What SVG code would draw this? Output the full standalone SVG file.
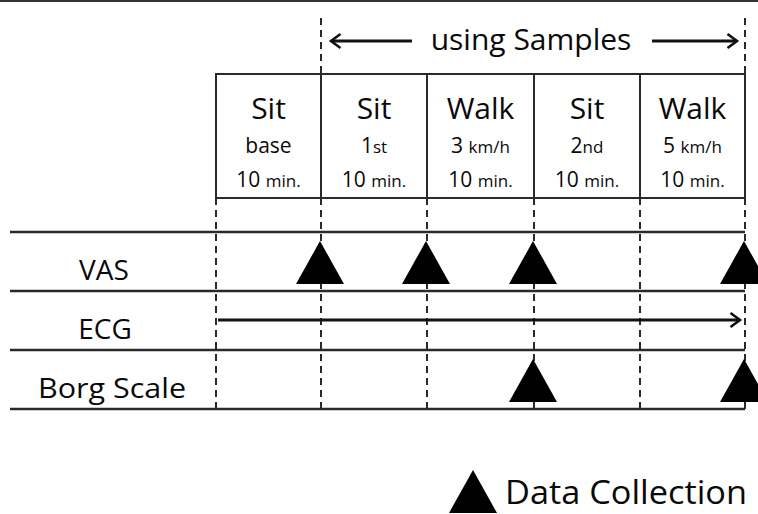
<svg xmlns="http://www.w3.org/2000/svg" width="758" height="514" viewBox="0 0 758 514">
<style>
  text { font-family: "Open Sans", "Liberation Sans", sans-serif; fill: #0a0a0a; text-anchor: middle; }
  .big { font-size: 30px; }
  .mid { font-size: 21px; }
  .sm { font-size: 17px; }
  .lbl { font-size: 28px; }
  .hline { stroke: #2a2a2a; stroke-width: 2.5; fill: none; }
  .solid { stroke: #2a2a2a; stroke-width: 2; fill: none; }
  .dash { stroke: #2a2a2a; stroke-width: 2; stroke-dasharray: 7 5; fill: none; }
  .arr { stroke: #111; stroke-width: 2.8; fill: none; }
  .tri { fill: #000; }
</style>
<defs>
  <marker id="head" viewBox="0 0 12 16" refX="10.5" refY="8" markerWidth="12" markerHeight="16" markerUnits="userSpaceOnUse" orient="auto-start-reverse" overflow="visible">
    <path d="M1,1 L10.5,8 L1,15" fill="none" stroke="#111" stroke-width="2.6" stroke-linejoin="miter"/>
  </marker>
  <polygon id="triangle" points="0,-22 -24,21 24,21"/>
</defs>

<rect x="0" y="0" width="758" height="2" fill="#333"/>

<g id="grid">
  <rect x="216" y="74" width="529" height="124" class="solid"/>
  <line x1="321" y1="74" x2="321" y2="198" class="solid"/>
  <line x1="427" y1="74" x2="427" y2="198" class="solid"/>
  <line x1="534" y1="74" x2="534" y2="198" class="solid"/>
  <line x1="640" y1="74" x2="640" y2="198" class="solid"/>
  <line x1="321" y1="18" x2="321" y2="74" class="dash"/>
  <line x1="745" y1="18" x2="745" y2="74" class="dash"/>
  <line x1="216" y1="198" x2="216" y2="410" class="dash"/>
  <line x1="321" y1="198" x2="321" y2="410" class="dash"/>
  <line x1="427" y1="198" x2="427" y2="410" class="dash"/>
  <line x1="534" y1="198" x2="534" y2="410" class="dash"/>
  <line x1="640" y1="198" x2="640" y2="410" class="dash"/>
  <line x1="745" y1="198" x2="745" y2="410" class="dash"/>
  <line x1="10" y1="232" x2="745" y2="232" class="hline"/>
  <line x1="10" y1="291" x2="745" y2="291" class="hline"/>
  <line x1="10" y1="350" x2="745" y2="350" class="hline"/>
  <line x1="10" y1="409" x2="745" y2="409" class="hline"/>
</g>

<g id="header">
  <text x="531" y="50" style="font-size:30px">using Samples</text>
</g>

<g id="cell-sit-base">
  <text x="268.5" y="119" class="big">Sit</text>
  <text x="268.5" y="153" class="mid">base</text>
  <text x="268.5" y="187" class="mid">10 <tspan class="sm">min.</tspan></text>
</g>
<g id="cell-sit-1st">
  <text x="374" y="119" class="big">Sit</text>
  <text x="374" y="153" class="mid">1<tspan class="sm">st</tspan></text>
  <text x="374" y="187" class="mid">10 <tspan class="sm">min.</tspan></text>
</g>
<g id="cell-walk-3">
  <text x="480.5" y="119" class="big">Walk</text>
  <text x="480.5" y="153" class="mid">3 <tspan class="sm">km/h</tspan></text>
  <text x="480.5" y="187" class="mid">10 <tspan class="sm">min.</tspan></text>
</g>
<g id="cell-sit-2nd">
  <text x="587" y="119" class="big">Sit</text>
  <text x="587" y="153" class="mid">2<tspan class="sm">nd</tspan></text>
  <text x="587" y="187" class="mid">10 <tspan class="sm">min.</tspan></text>
</g>
<g id="cell-walk-5">
  <text x="692.5" y="119" class="big">Walk</text>
  <text x="692.5" y="153" class="mid">5 <tspan class="sm">km/h</tspan></text>
  <text x="692.5" y="187" class="mid">10 <tspan class="sm">min.</tspan></text>
</g>

<g id="row-vas">
  <text x="104" y="280" class="lbl">VAS</text>
</g>
<g id="row-ecg">
  <text x="105" y="339" class="lbl">ECG</text>
</g>
<g id="row-borg">
  <text x="112" y="398" class="lbl" textLength="148" lengthAdjust="spacingAndGlyphs">Borg Scale</text>
</g>

<g id="vas-markers" class="tri">
  <use href="#triangle" x="320" y="263"/>
  <use href="#triangle" x="426" y="263"/>
  <use href="#triangle" x="533" y="263"/>
  <use href="#triangle" x="744" y="263"/>
</g>
<g id="borg-markers" class="tri">
  <use href="#triangle" x="533" y="381"/>
  <use href="#triangle" x="744" y="381"/>
</g>

<g id="connectors">
  <line x1="331" y1="41" x2="412" y2="41" class="arr" marker-start="url(#head)"/>
  <line x1="652" y1="41" x2="737" y2="41" class="arr" marker-end="url(#head)"/>
  <line x1="218" y1="320" x2="740" y2="320" class="arr" marker-end="url(#head)"/>
</g>

<g id="legend">
  <polygon class="tri" points="473,470 449,513 497,513"/>
  <text x="505" y="504" style="font-size:32px;text-anchor:start" textLength="242" lengthAdjust="spacingAndGlyphs">Data Collection</text>
</g>
</svg>
